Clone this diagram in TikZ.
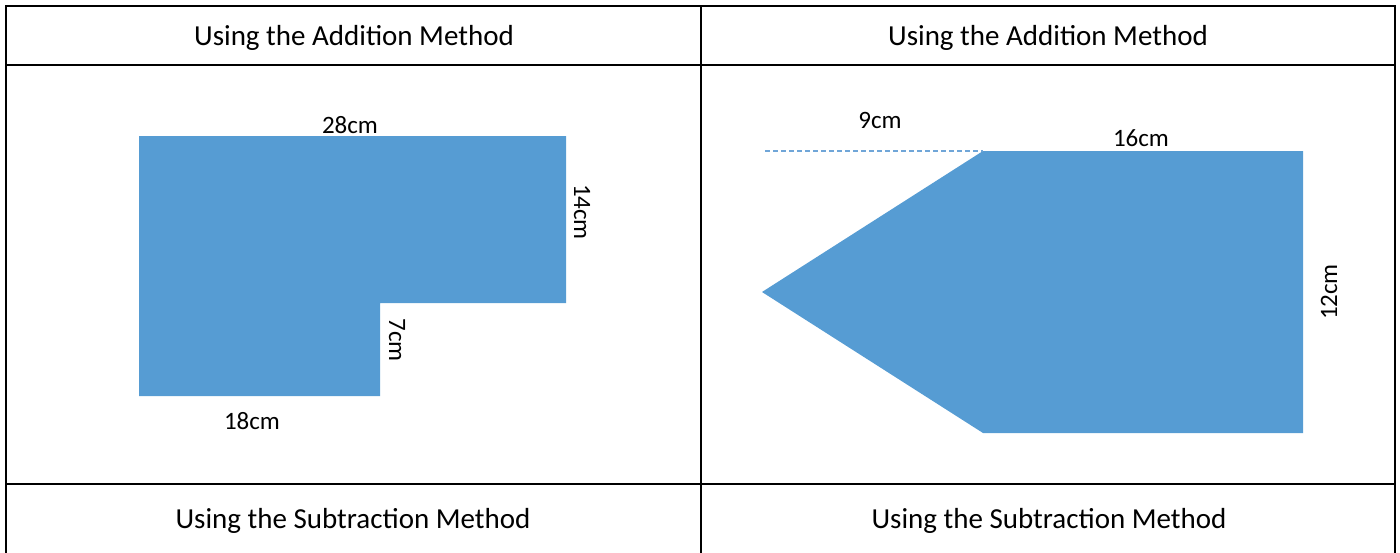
\documentclass[tikz,border=0pt]{standalone}
\usepackage{fontspec}
\setmainfont{Carlito}
\usepackage{tikz}
\definecolor{shapeblue}{RGB}{86,156,211}
\definecolor{dashblue}{RGB}{112,166,216}

\begin{document}
\begin{tikzpicture}[x=1pt,y=-1pt,
    rule/.style={black, line width=2pt},
    area/.style={fill=shapeblue},
    head/.style={anchor=base, font=\fontsize{29}{34}\selectfont},
    size/.style={inner sep=0pt, font=\fontsize{25}{30}\selectfont}]
  \useasboundingbox (0,0) rectangle (1400,552);
  % Table
  \draw[rule] (6,560) -- (6,6) -- (1395,6) -- (1395,560);
  \draw[rule] (6,65) -- (1395,65);
  \draw[rule] (6,484) -- (1395,484);
  \draw[rule] (701,6) -- (701,560);
  % Headings
  \node[head] (addA) at (354,45.5) {Using the Addition Method};
  \node[head] (addB) at (1048,45.5) {Using the Addition Method};
  \node[head] (subA) at (353,528) {Using the Subtraction Method};
  \node[head] (subB) at (1049,528) {Using the Subtraction Method};
  % L shape
  \fill[area] (139,136) -- (566,136) -- (566,303) -- (380,303) -- (380,396) -- (139,396) -- cycle;
  \node[size] (lTop) at (350,125) {28cm};
  \node[size, rotate=-90] (lRight) at (582,212) {14cm};
  \node[size, rotate=-90] (lStep) at (397,340) {7cm};
  \node[size] (lBottom) at (252,421) {18cm};
  % Arrow shape
  \coordinate (pTop) at (983,151);
  \coordinate (dashEnd) at (765,151);
  \fill[area] (pTop) -- (1303,151) -- (1303,433) -- (983,433) -- (762,292) -- cycle;
  \draw[dashblue, line width=1.2pt, dash pattern=on 5pt off 3pt] (dashEnd) -- (pTop);
  \node[size] (pLeft) at (880,120) {9cm};
  \node[size] (pUp) at (1141,138) {16cm};
  \node[size, rotate=90] (pSide) at (1329,292) {12cm};
\end{tikzpicture}
\end{document}
